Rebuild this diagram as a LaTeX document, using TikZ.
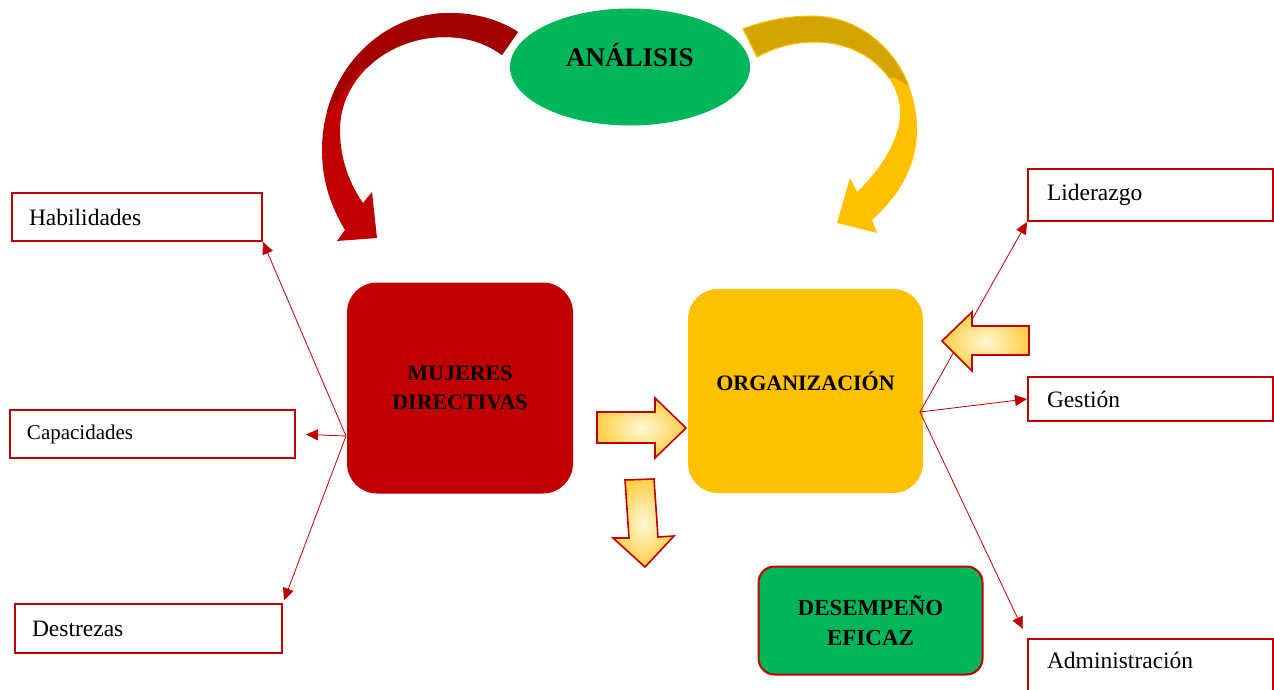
\documentclass[tikz,border=0pt]{standalone}
\usepackage{fontspec}
\setmainfont{Liberation Serif}
\usetikzlibrary{positioning, arrows.meta, shapes.geometric}
\definecolor{dirred}{RGB}{192, 0, 0}
\definecolor{dirdark}{RGB}{163, 0, 0}
\definecolor{orggold}{RGB}{255, 192, 0}
\definecolor{orgdark}{RGB}{212, 165, 0}
\definecolor{anagreen}{RGB}{0, 182, 90}
\definecolor{flowlight}{RGB}{255, 247, 214}
\definecolor{flowgold}{RGB}{255, 208, 70}

\begin{document}
\begin{tikzpicture}[x=1pt, y=-1pt,
      item/.style={draw=dirred, line width=2pt, minimum height=48pt, inner xsep=17pt,
                   align=left, anchor=west, font=\fontsize{23.5}{28}\selectfont},
      core/.style={rounded corners=30pt, minimum width=226pt, minimum height=211pt,
                   align=center, font=\bfseries\fontsize{22}{29}\selectfont},
      conn/.style={-{Triangle[length=12pt, width=11pt]}, line width=0.8pt, color=dirred},
      flow/.style={draw=dirred, line width=1.6pt, inner color=flowlight, outer color=flowgold}]
    \useasboundingbox (0,0) rectangle (1274,690);
    \clip (0,0) rectangle (1274,690);

    % bent arrows round the ellipse
    \path[save path=\leftbend] (518,32) .. controls (500,20) and (475,13) .. (450,13)
      .. controls (379,13) and (322,74) .. (322,150) .. controls (322,180) and (330,205) .. (345,230)
      -- (337,241) -- (377,238) -- (372,192) -- (363,203)
      .. controls (347,180) and (340,155) .. (340,130) .. controls (340,79) and (387,37) .. (445,37)
      .. controls (470,37) and (488,45) .. (502,55) -- cycle;
    \path[save path=\rightbend] (743,29) .. controls (765,20) and (790,16) .. (812,16)
      .. controls (870,16) and (917,67) .. (917,130) .. controls (917,165) and (900,195) .. (872,220)
      -- (877,233) -- (837,223) -- (850,178) -- (857,192)
      .. controls (880,170) and (900,140) .. (900,113) .. controls (900,74) and (862,42) .. (815,42)
      .. controls (790,42) and (772,49) .. (757,57) -- cycle;
    \fill[dirred, use path=\leftbend];
    \begin{scope}
      \clip (290,-5) -- (540,-5) -- (540,72) -- (360,68) -- (330,112) -- (290,112) -- cycle;
      \fill[dirdark, use path=\leftbend];
    \end{scope}
    \fill[orggold, use path=\rightbend];
    \begin{scope}
      \clip (700,-5) -- (960,-5) -- (960,115) -- (895,78) -- (700,78) -- cycle;
      \draw[orggold, line width=1pt, fill=orgdark, use path=\rightbend];
    \end{scope}

    \node[ellipse, fill=anagreen, minimum width=240pt, minimum height=117pt, text depth=24pt,
          font=\bfseries\fontsize{27}{32}\selectfont] (ana) at (630,67) {ANÁLISIS};

    \node[core, fill=dirred] (muj) at (460,388) {MUJERES\\DIRECTIVAS};
    \node[core, fill=orggold, minimum width=235pt, minimum height=204pt, text depth=20pt] (org) at (805.5,391) {ORGANIZACIÓN};
    \node[draw=dirred, line width=2pt, fill=anagreen, rounded corners=16pt, minimum width=224pt,
          minimum height=108pt, align=center, font=\bfseries\fontsize{23}{30}\selectfont] (efi) at (870.5,620.5) {DESEMPEÑO\\EFICAZ};

    \node[item, text width=216pt] (hab) at (11,217) {Habilidades};
    \node[item, text width=251pt, font=\fontsize{21}{25}\selectfont] (cap) at (9,434) {Capacidades};
    \node[item, text width=233pt, minimum height=49pt] (des) at (14,628.5) {Destrezas};
    \node[item, text width=207pt, inner xsep=19pt, minimum height=52pt] (lid) at (1027,195) {Liderazgo};
    \node[item, text width=207pt, inner xsep=19pt, minimum height=44pt] (ges) at (1027,399) {Gestión};
    \node[item, text width=207pt, inner xsep=19pt, minimum height=64pt, text depth=22pt, anchor=north west] (adm) at (1027,638) {Administración};

    \coordinate (jl) at (346,436);
    \coordinate (jr) at (920,412);
    \draw[conn] (jl) -- (hab.south east);
    \draw[conn, shorten >=10pt] (jl) -- (cap.east);
    \draw[conn, shorten >=3pt] (jl) -- (des.north east);
    \draw[conn] (jr) -- (lid.south west);
    \draw[conn] (jr) -- (ges.west);
    \draw[conn, shorten >=10pt] (jr) -- (adm.north west);

    % block arrows
    \draw[flow] (597,412) -- (655,412) -- (655,398) -- (686,428) -- (655,458) -- (655,443) -- (597,443) -- cycle;
    \draw[flow] (625,480) -- (654,479) -- (658,537) -- (674,536) -- (645,567) -- (613,538) -- (629,538) -- cycle;
    \draw[flow] (1029,326) -- (972,326) -- (972,312) -- (942,341) -- (972,371) -- (972,355) -- (1029,355) -- cycle;
  \end{tikzpicture}
\end{document}
